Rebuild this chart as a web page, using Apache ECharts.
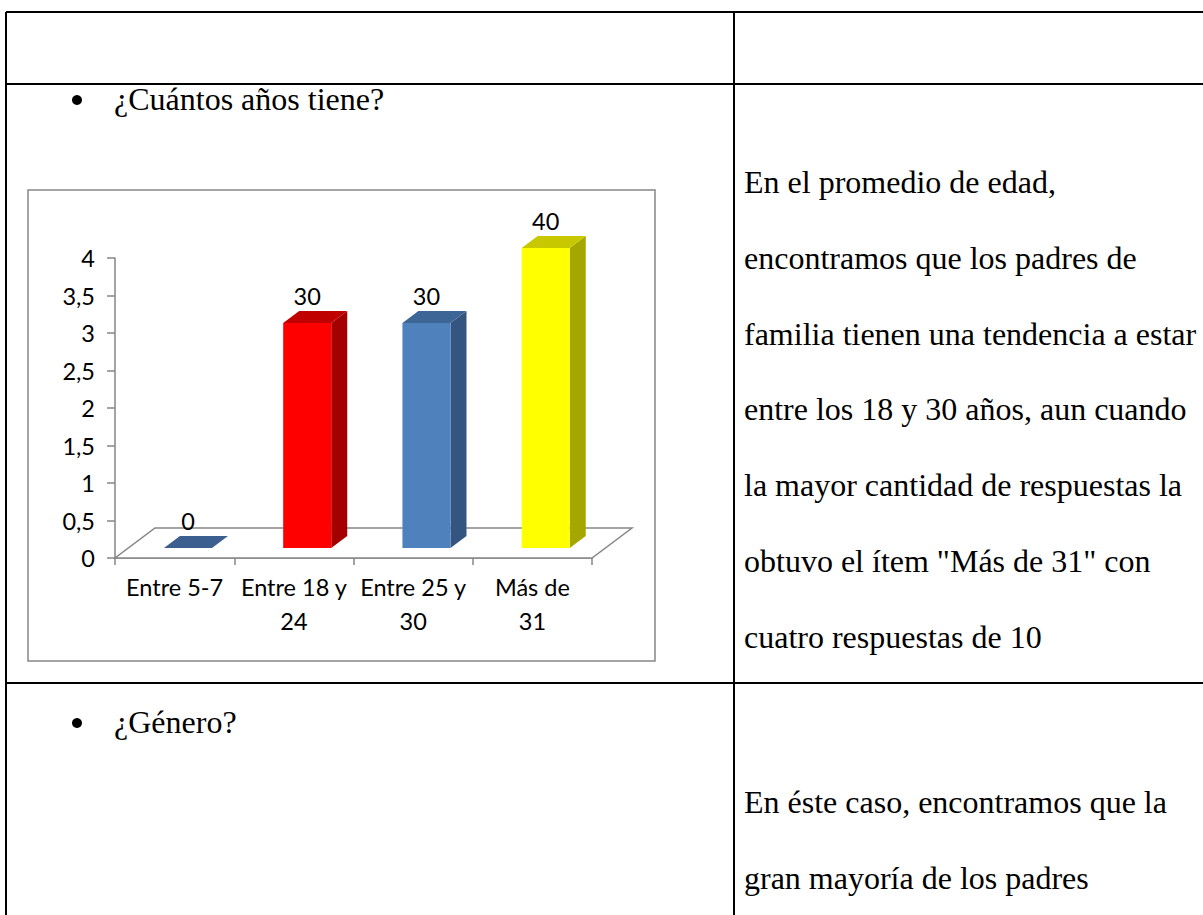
<!DOCTYPE html>
<html>
<head>
<meta charset="utf-8">
<script src="https://cdn.jsdelivr.net/npm/echarts@6/dist/echarts.min.js"></script>
<style>
html,body{margin:0;padding:0;background:#fff;}
#page{width:1203px;height:915px;}
</style>
</head>
<body>
<div id="page"></div>
<script>
// ---- data ----
const categories = ['Entre 5-7', 'Entre 18 y\n24', 'Entre 25 y\n30', 'Más de\n31'];
const values = [0, 3, 3, 4];
const valueLabels = ['0', '30', '30', '40'];
const yTickLabels = ['0', '0,5', '1', '1,5', '2', '2,5', '3', '3,5', '4'];
const question1 = '¿Cuántos años tiene?';
const question2 = '¿Género?';
const comment1 = ['En el promedio de edad,', 'encontramos que los padres de', 'familia tienen una tendencia a estar', 'entre los 18 y 30 años, aun cuando', 'la mayor cantidad de respuestas la', 'obtuvo el ítem "Más de 31" con', 'cuatro respuestas de 10'];
const comment2 = ['En éste caso, encontramos que la', 'gran mayoría de los padres'];

// ---- styles ----
const faceColors = {
  front: ['#4F81BD', '#FF0000', '#4F81BD', '#FFFF00'],
  side:  ['#33557F', '#A50000', '#33557F', '#A6A600'],
  top:   ['#3B5F8F', '#C00000', '#3D6596', '#C8C800']
};
const axisGray = '#868686';
const serif = '"Liberation Serif", "Times New Roman", serif';
const sans = 'Lato, "Open Sans", sans-serif';
const serifSize = 32;
const sansSize = 23.5;

const chart = echarts.init(document.getElementById('page'), null, {renderer: 'svg', width: 1203, height: 915});

const graphics = [];
// table lines
const L = (x1, y1, x2, y2) => graphics.push({type: 'line', shape: {x1, y1, x2, y2}, style: {stroke: '#000', lineWidth: 2}, silent: true});
L(6, 12, 1203, 12);
L(6, 12, 6, 915);
L(734, 12, 734, 915);
L(6, 84, 1203, 84);
L(6, 683, 1203, 683);
// bullets and questions
const T = (x, y, text) => graphics.push({type: 'text', x, y, style: {text, font: serifSize + 'px ' + serif, fill: '#000', textVerticalAlign: 'middle'}});
graphics.push({type: 'circle', shape: {cx: 77, cy: 100, r: 5}, style: {fill: '#000'}, silent: true});
T(114, 99, question1);
graphics.push({type: 'circle', shape: {cx: 77, cy: 723, r: 5}, style: {fill: '#000'}, silent: true});
T(114, 722, question2);
comment1.forEach((t, i) => T(744, 182 + i * 75.8, t));
comment2.forEach((t, i) => T(744, 802 + i * 75.8, t));
// chart frame
graphics.push({type: 'rect', shape: {x: 28, y: 190, width: 627, height: 471}, style: {fill: 'none', stroke: axisGray, lineWidth: 1.5}, silent: true});

// 3D geometry
const FLOOR_DX = 40, FLOOR_DY = -30;
const BAR_FRONT = 1 / 3;
const BAR_DEPTH_DX = 16, BAR_DEPTH_DY = -12;
const BAR_W = 0.403;

function renderFloor(params, api) {
  const catW = api.size([1, 0])[0];
  const first = api.coord([0, 0]);
  const last = api.coord([categories.length - 1, 0]);
  const x0 = first[0] - catW / 2, x1 = last[0] + catW / 2, y = first[1];
  return {
    type: 'polygon',
    shape: {points: [[x0, y], [x1, y], [x1 + FLOOR_DX, y + FLOOR_DY], [x0 + FLOOR_DX, y + FLOOR_DY]]},
    style: {fill: '#fff', stroke: axisGray, lineWidth: 1.5}
  };
}

function renderBar(params, api) {
  const i = api.value(0);
  const v = api.value(1);
  const catW = api.size([1, 0])[0];
  const base = api.coord([i, 0]);
  const top = api.coord([i, v]);
  const w = catW * BAR_W;
  const cx = base[0] + FLOOR_DX * BAR_FRONT;
  const yb = base[1] + FLOOR_DY * BAR_FRONT;
  const yt = top[1] + FLOOR_DY * BAR_FRONT;
  const xl = cx - w / 2, xr = cx + w / 2;
  const children = [];
  if (v > 0) {
    children.push({type: 'polygon', shape: {points: [[xr, yb], [xr + BAR_DEPTH_DX, yb + BAR_DEPTH_DY], [xr + BAR_DEPTH_DX, yt + BAR_DEPTH_DY], [xr, yt]]}, style: {fill: faceColors.side[i]}});
    children.push({type: 'rect', shape: {x: xl, y: yt, width: w, height: yb - yt}, style: {fill: faceColors.front[i]}});
  }
  children.push({type: 'polygon', shape: {points: [[xl, yt], [xr, yt], [xr + BAR_DEPTH_DX, yt + BAR_DEPTH_DY], [xl + BAR_DEPTH_DX, yt + BAR_DEPTH_DY]]}, style: {fill: faceColors.top[i]}});
  children.push({type: 'text', x: cx, y: yt - 27, style: {text: valueLabels[i], font: sansSize + 'px ' + sans, fill: '#000', textAlign: 'center', textVerticalAlign: 'middle'}});
  return {type: 'group', children};
}

chart.setOption({
  animation: false,
  backgroundColor: '#fff',
  grid: {left: 115, top: 258, width: 477, height: 300, containLabel: false},
  xAxis: {
    type: 'category',
    data: categories,
    boundaryGap: true,
    axisLine: {lineStyle: {color: axisGray, width: 1.5}},
    axisTick: {show: true, length: 7, lineStyle: {color: axisGray, width: 1.5}},
    axisLabel: {color: '#000', fontFamily: sans, fontSize: sansSize, lineHeight: 34, margin: 12, interval: 0}
  },
  yAxis: {
    type: 'value',
    min: 0, max: 4, interval: 0.5,
    axisLine: {show: true, lineStyle: {color: axisGray, width: 1.5}},
    axisTick: {show: true, length: 8, lineStyle: {color: axisGray, width: 1.5}},
    splitLine: {show: false},
    axisLabel: {color: '#000', fontFamily: sans, fontSize: sansSize, margin: 20,
      formatter: (val) => yTickLabels[Math.round(val / 0.5)]}
  },
  series: [
    {type: 'custom', renderItem: renderFloor, data: [[0]], z: 1, silent: true},
    {type: 'custom', renderItem: renderBar, data: values.map((v, i) => [i, v]), z: 2, silent: true}
  ],
  graphic: graphics
});
</script>
</body>
</html>
